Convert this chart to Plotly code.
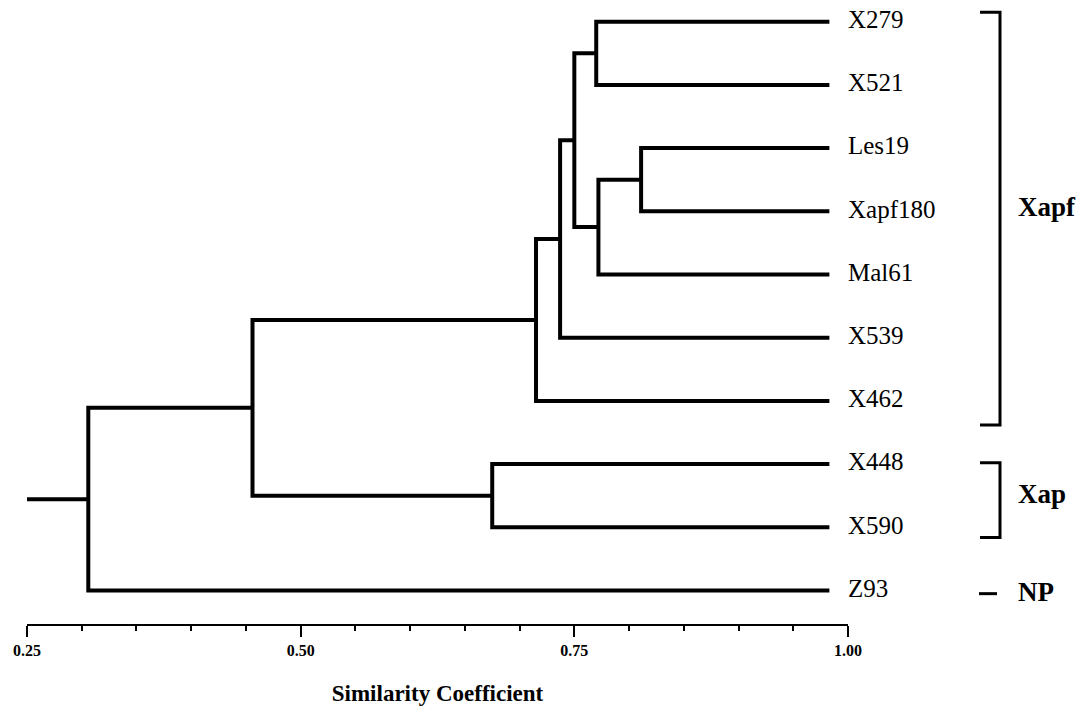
import plotly.graph_objects as go

# ---------------- data ----------------
leaves = ["X279", "X521", "Les19", "Xapf180", "Mal61", "X539", "X462", "X448", "X590", "Z93"]
leaf_similarity = 0.983  # where leaf branches end

# merges in linkage order: (child_a, child_b, similarity); ids >= len(leaves) are earlier merges
merge_a = [0, 2, 11, 10, 13, 7, 14, 16, 17]
merge_b = [1, 3, 4, 12, 5, 8, 6, 15, 9]
merge_sim = [0.770, 0.811, 0.772, 0.750, 0.737, 0.675, 0.715, 0.456, 0.306]
root_start = 0.25
label_pos = 1.0

groups = ["Xapf", "Xap", "NP"]
group_first = [0, 7, 9]
group_last = [6, 8, 9]

tick_vals = [0.25, 0.50, 0.75, 1.00]
tick_text = ["0.25", "0.50", "0.75", "1.00"]

# ---------------- build dendrogram ----------------
n = len(leaves)
pos = {i: (float(i), leaf_similarity) for i in range(n)}
xs, ys = [], []
for k, (a, b, s) in enumerate(zip(merge_a, merge_b, merge_sim)):
    ya, xa = pos[a]
    yb, xb = pos[b]
    xs += [xa, s, s, xb, None]
    ys += [ya, ya, yb, yb, None]
    pos[n + k] = ((ya + yb) / 2, s)
root_y, root_x = pos[n + len(merge_sim) - 1]
xs += [root_start, root_x, None]
ys += [root_y, root_y, None]

SERIF = "Liberation Serif, Times New Roman, serif"

fig = go.Figure()
fig.add_trace(go.Scatter(x=xs, y=ys, mode="lines",
                         line=dict(color="black", width=4),
                         hoverinfo="skip", showlegend=False, cliponaxis=False))

fig.add_trace(go.Scatter(x=[label_pos] * n, y=list(range(n)), mode="text",
                         text=leaves, textposition="middle right",
                         textfont=dict(family=SERIF, size=25, color="black"),
                         hoverinfo="skip", showlegend=False, cliponaxis=False))

FIG_W, FIG_H = 1091, 714
X0_PX, X1_PX = 27, 848
AXIS_Y_PX = 624
ROW0_PX, ROW_STEP = 21.7, 63.2

y_top = -ROW0_PX / ROW_STEP
y_bot = (AXIS_Y_PX - ROW0_PX) / ROW_STEP

shapes = []
annotations = []
bx = 1000 / FIG_W
hx = 980 / FIG_W
for g, f, l in zip(groups, group_first, group_last):
    if f == l:
        shapes.append(dict(type="line", xref="paper", yref="y", x0=979 / FIG_W, x1=997 / FIG_W,
                           y0=f + 0.05, y1=f + 0.05, line=dict(color="black", width=3)))
        ym = f + 0.03
    else:
        top = f - (0.15 if f == 0 else 0.02)
        bot = l + (0.38 if g == "Xapf" else 0.16)
        shapes.append(dict(type="path", xref="paper", yref="y",
                           path=f"M {hx},{top} L {bx},{top} L {bx},{bot} L {hx},{bot}",
                           line=dict(color="black", width=3)))
        ym = 2.93 if g == "Xapf" else (f + l) / 2 - 0.03
    annotations.append(dict(text=g, xref="paper", yref="y", x=1016 / FIG_W, y=ym,
                            xanchor="left", yanchor="middle", showarrow=False,
                            font=dict(family=SERIF, size=27, color="black", weight="bold")))

fig.update_layout(
    width=FIG_W, height=FIG_H,
    margin=dict(l=0, r=0, t=0, b=0, autoexpand=False),
    paper_bgcolor="white", plot_bgcolor="white",
    shapes=shapes, annotations=annotations,
    xaxis=dict(domain=[X0_PX / FIG_W, X1_PX / FIG_W], range=[0.25, 1.0], automargin=False,
               showgrid=False, zeroline=False, showline=True, linecolor="black", linewidth=2,
               ticks="outside", ticklen=11, tickwidth=2, tickcolor="black",
               tickvals=tick_vals, ticktext=tick_text,
               tickfont=dict(family=SERIF, size=16, color="black", weight="bold"),
               minor=dict(ticks="outside", ticklen=5, tickwidth=1.5, tickcolor="black", dtick=0.05,
                          tick0=0.25, showgrid=False),
               title=dict(text="Similarity Coefficient", standoff=27,
                          font=dict(family=SERIF, size=23, color="black", weight="bold")),
               fixedrange=True),
    yaxis=dict(domain=[1 - AXIS_Y_PX / FIG_H, 1], range=[y_bot, y_top], automargin=False,
               showgrid=False, zeroline=False, showline=False, showticklabels=False, ticks="",
               fixedrange=True),
)

fig.write_html("out.html")
